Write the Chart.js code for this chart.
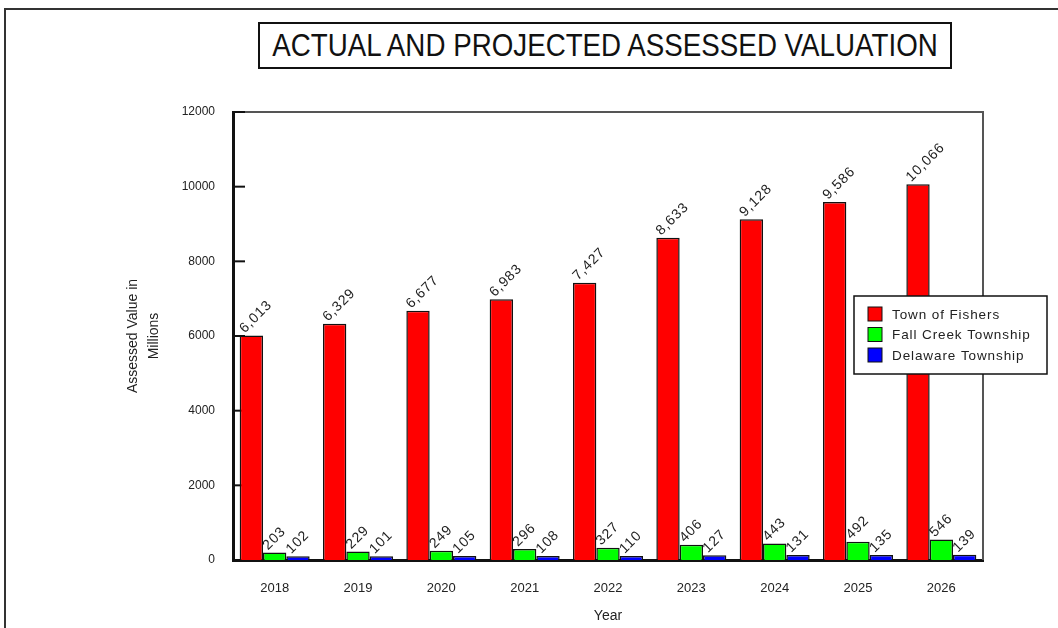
<!DOCTYPE html>
<html>
<head>
<meta charset="utf-8">
<script src="https://cdn.jsdelivr.net/npm/chart.js@4/dist/chart.umd.min.js"></script>
<style>
  body { margin: 0; background: #fff; width: 1058px; height: 628px; overflow: hidden; position: relative; }
  #frame { position: absolute; left: 4px; top: 8px; width: 1100px; height: 700px; border: 2px solid #333; box-sizing: border-box; }
  #title {
    position: absolute; left: 258px; top: 22px; width: 694px; height: 47px;
    border: 2px solid #111; box-sizing: border-box; background: #fff;
    color: #111; white-space: nowrap;
  }
  #title span {
    position: absolute; left: 50%; top: 0;
    font-family: 'Liberation Sans', Arial, sans-serif;
    font-size: 31px; line-height: 43px;
    transform: translateX(-50%) scaleX(0.895);
  }
  canvas { position: absolute; left: 0; top: 0; }
</style>
</head>
<body>
<div id="frame"></div>
<div id="title"><span>ACTUAL AND PROJECTED ASSESSED VALUATION</span></div>
<canvas id="chart" width="1058" height="628"></canvas>
<script>
// values in millions
const years = ['2018', '2019', '2020', '2021', '2022', '2023', '2024', '2025', '2026'];
const fishers = [6013, 6329, 6677, 6983, 7427, 8633, 9128, 9586, 10066];
const fallCreek = [203, 229, 249, 296, 327, 406, 443, 492, 546];
const delaware = [102, 101, 105, 108, 110, 127, 131, 135, 139];
const seriesNames = ['Town of Fishers', 'Fall Creek Township', 'Delaware Township'];
const seriesColors = ['#ff0000', '#00ff00', '#0000ff'];

Chart.defaults.font.family = "'Liberation Sans', Arial, sans-serif";
Chart.defaults.font.size = 13;
Chart.defaults.color = '#222';

// rotated value labels above each bar
const valueLabels = {
    id: 'valueLabels',
    afterDatasetsDraw(chart) {
        const ctx = chart.ctx;
        ctx.save();
        ctx.font = "14px 'Liberation Sans', Arial, sans-serif";
        ctx.letterSpacing = '0.9px';
        ctx.fillStyle = '#222';
        ctx.textAlign = 'left';
        ctx.textBaseline = 'alphabetic';
        chart.data.datasets.forEach((ds, i) => {
            chart.getDatasetMeta(i).data.forEach((bar, j) => {
                ctx.save();
                ctx.translate(bar.x - bar.width / 2 + 5, bar.y - 2);
                ctx.rotate(-Math.PI / 4);
                ctx.fillText(ds.data[j].toLocaleString('en-US'), 0, 0);
                ctx.restore();
            });
        });
        ctx.restore();
    }
};

// top/right frame lines and inward y ticks
const plotFrame = {
    id: 'plotFrame',
    beforeDatasetsDraw(chart) {
        const {ctx, chartArea: a, scales: {y}} = chart;
        ctx.save();
        ctx.strokeStyle = '#555';
        ctx.lineWidth = 2;
        ctx.beginPath();
        ctx.moveTo(a.left, a.top);
        ctx.lineTo(a.right, a.top);
        ctx.lineTo(a.right, a.bottom);
        ctx.stroke();
        ctx.strokeStyle = '#111';
        ctx.lineWidth = 2;
        y.ticks.forEach(t => {
            const py = y.getPixelForValue(t.value);
            ctx.beginPath();
            ctx.moveTo(a.left, py);
            ctx.lineTo(a.left + 12, py);
            ctx.stroke();
        });
        ctx.restore();
    }
};

// boxed legend sitting inside the plot
const boxLegend = {
    id: 'boxLegend',
    afterDraw(chart, args, opts) {
        const ctx = chart.ctx;
        ctx.save();
        ctx.fillStyle = '#fff';
        ctx.fillRect(opts.x, opts.y, opts.w, opts.h);
        ctx.strokeStyle = '#111';
        ctx.lineWidth = 1.5;
        ctx.strokeRect(opts.x, opts.y, opts.w, opts.h);
        ctx.font = "13.5px 'Liberation Sans', Arial, sans-serif";
        ctx.letterSpacing = '0.9px';
        ctx.textBaseline = 'middle';
        chart.data.datasets.forEach((ds, i) => {
            const cy = opts.y + 18 + i * 20.5;
            ctx.fillStyle = ds.backgroundColor;
            ctx.fillRect(opts.x + 14, cy - 7, 14, 14);
            ctx.strokeStyle = '#111';
            ctx.lineWidth = 1;
            ctx.strokeRect(opts.x + 14, cy - 7, 14, 14);
            ctx.fillStyle = '#222';
            ctx.fillText(ds.label, opts.x + 38, cy + 1);
        });
        ctx.restore();
    }
};

const datasets = [fishers, fallCreek, delaware].map((vals, i) => ({
    label: seriesNames[i],
    data: vals,
    backgroundColor: seriesColors[i],
    borderColor: '#111',
    borderWidth: 1.5,
    categoryPercentage: 0.84,
    barPercentage: 1.0,
}));

new Chart(document.getElementById('chart').getContext('2d'), {
    type: 'bar',
    data: { labels: years, datasets: datasets },
    plugins: [plotFrame, valueLabels, boxLegend],
    options: {
        responsive: false,
        animation: false,
        devicePixelRatio: 1,
        layout: { padding: { left: 110, right: 75, top: 112, bottom: 0 } },
        plugins: {
            legend: { display: false },
            tooltip: { enabled: false },
            boxLegend: { x: 854, y: 296, w: 193, h: 78 },
        },
        scales: {
            x: {
                grid: { display: false, drawTicks: false },
                border: { display: true, color: '#111', width: 3 },
                ticks: { padding: 21, font: { size: 13 } },
                title: { display: true, text: 'Year', font: { size: 14 }, padding: { top: 0, bottom: 3 } },
                afterFit: s => { s.height = 68; },
            },
            y: {
                min: 0,
                max: 12000,
                grid: { display: false, drawTicks: false },
                border: { display: true, color: '#111', width: 3 },
                ticks: { stepSize: 2000, padding: 18, font: { size: 12 }, callback: v => String(v) },
                title: {
                    display: true,
                    text: ['Assessed Value in', 'Millions'],
                    font: { size: 14, lineHeight: 1.55 },
                    padding: { top: 12, bottom: 0 },
                },
                afterFit: s => { s.width = 123; },
            },
        },
    },
});
</script>
</body>
</html>
